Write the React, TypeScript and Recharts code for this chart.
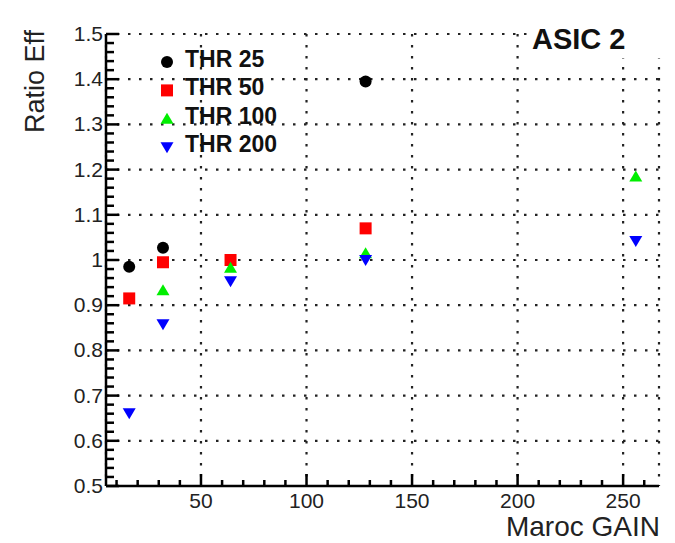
import React from 'react';
import { ScatterChart, Scatter, XAxis, YAxis, CartesianGrid } from 'recharts';

// ---- data ----
const gains = [16, 32, 64, 128, 256];
const thr25 = [0.985, 1.027, null, 1.395, null];
const thr50 = [0.915, 0.995, 1.0, 1.07, null];
const thr100 = [null, 0.933, 0.983, 1.015, 1.185];
const thr200 = [0.661, 0.858, 0.953, 1.0, 1.042];

const seriesNames = ['THR 25', 'THR 50', 'THR 100', 'THR 200'];
const seriesValues = [thr25, thr50, thr100, thr200];
const seriesColors = ['#000000', '#ff0000', '#00ee00', '#0000ff'];
const seriesShapes = ['circle', 'square', 'triangleUp', 'triangleDown'];

const xMajorTicks = [50, 100, 150, 200, 250];
const xAllTicks = [10, 20, 30, 40, 50, 60, 70, 80, 90, 100, 110, 120, 130, 140, 150, 160, 170, 180, 190, 200, 210, 220, 230, 240, 250, 260];
const xDomain = [5, 267];
const yMajorTicks = [0.5, 0.6, 0.7, 0.8, 0.9, 1.0, 1.1, 1.2, 1.3, 1.4, 1.5];
const yDomain = [0.5, 1.5];
const ySubdivisions = 5;

const yAllTicks: number[] = [];
for (let i = 0; i < yMajorTicks.length; i++) {
  yAllTicks.push(yMajorTicks[i]);
  if (i < yMajorTicks.length - 1) {
    const step = (yMajorTicks[i + 1] - yMajorTicks[i]) / ySubdivisions;
    for (let k = 1; k < ySubdivisions; k++) yAllTicks.push(+(yMajorTicks[i] + k * step).toFixed(4));
  }
}

const FONT = '"Liberation Sans", Arial, Helvetica, sans-serif';

function Marker({ shape, color, cx, cy }: any) {
  if (cx == null || cy == null) return null;
  switch (shape) {
    case 'circle':
      return <circle cx={cx} cy={cy} r={6} fill={color} />;
    case 'square':
      return <rect x={cx - 6} y={cy - 6} width={12} height={12} fill={color} />;
    case 'triangleUp':
      return <path d={`M${cx},${cy - 6} L${cx + 6.5},${cy + 5} L${cx - 6.5},${cy + 5} Z`} fill={color} />;
    case 'triangleDown':
      return <path d={`M${cx},${cy + 6} L${cx + 6.5},${cy - 5} L${cx - 6.5},${cy - 5} Z`} fill={color} />;
    default:
      return null;
  }
}

const isMajorY = (v: number) => yMajorTicks.some((m) => Math.abs(m - v) < 1e-6);

const XTick = (props: any) => {
  const { x, y, payload } = props;
  const v = payload.value;
  const major = xMajorTicks.includes(v);
  return (
    <g>
      <line x1={x} x2={x} y1={y} y2={y - (major ? 12 : 6)} stroke="#000" strokeWidth={2.5} />
      {major && (
        <text x={x} y={y + 22} textAnchor="middle" fontSize={21} fill="#222" fontFamily={FONT}>
          {v}
        </text>
      )}
    </g>
  );
};

const YTick = (props: any) => {
  const { x, y, payload } = props;
  const v = payload.value;
  const major = isMajorY(v);
  return (
    <g>
      <line x1={x} x2={x + (major ? 13 : 8)} y1={y} y2={y} stroke="#000" strokeWidth={2.5} />
      {major && (
        <text x={x - 3} y={y + 7} textAnchor="end" fontSize={21} fill="#222" fontFamily={FONT}>
          {parseFloat(v.toFixed(1)).toString()}
        </text>
      )}
    </g>
  );
};

const seriesData = seriesValues.map((vals) =>
  gains.map((g, i) => ({ x: g, y: vals[i] })).filter((d) => d.y != null)
);

export default function App() {
  return (
    <div style={{ position: 'absolute', left: 0, top: 0, width: 675, height: 543, background: '#fff' }}>
      <ScatterChart width={675} height={543} margin={{ top: 34, right: 16, bottom: 27, left: 46 }}>
        <XAxis xAxisId="gx" type="number" dataKey="x" domain={xDomain} ticks={xMajorTicks} hide allowDataOverflow />
        <YAxis yAxisId="gy" type="number" dataKey="y" domain={yDomain} ticks={yMajorTicks} hide allowDataOverflow />
        <CartesianGrid
          xAxisId="gx"
          yAxisId="gy"
          stroke="#222"
          strokeWidth={2.2}
          strokeDasharray="2.5 8.5"
        />
        <XAxis
          type="number"
          dataKey="x"
          domain={xDomain}
          ticks={xAllTicks}
          interval={0}
          height={30}
          tickSize={0}
          tickMargin={0}
          tickLine={false}
          tick={<XTick />}
          axisLine={{ stroke: '#000', strokeWidth: 2.5 }}
          allowDataOverflow
        />
        <YAxis
          type="number"
          dataKey="y"
          domain={yDomain}
          ticks={yAllTicks}
          interval={0}
          width={60}
          tickSize={0}
          tickMargin={0}
          tickLine={false}
          tick={<YTick />}
          axisLine={{ stroke: '#000', strokeWidth: 2.5 }}
          allowDataOverflow
        />
        <XAxis
          xAxisId="top"
          orientation="top"
          type="number"
          domain={xDomain}
          height={0}
          tick={false}
          tickLine={false}
          axisLine={{ stroke: '#000', strokeWidth: 2.5 }}
        />
        <YAxis
          yAxisId="right"
          orientation="right"
          type="number"
          domain={yDomain}
          width={0}
          tick={false}
          tickLine={false}
          axisLine={{ stroke: '#000', strokeWidth: 2.5 }}
        />
        {seriesData.map((d, i) => (
          <Scatter
            key={seriesNames[i]}
            name={seriesNames[i]}
            data={d}
            isAnimationActive={false}
            shape={(p: any) => <Marker shape={seriesShapes[i]} color={seriesColors[i]} cx={p.cx} cy={p.cy} />}
          />
        ))}
      </ScatterChart>
      <svg
        width={675}
        height={543}
        style={{ position: 'absolute', left: 0, top: 0, pointerEvents: 'none' }}
      >
        <text
          transform="rotate(-90)"
          x={-30}
          y={44}
          textAnchor="end"
          fontSize={27}
          fill="#222"
          fontFamily={FONT}
        >
          Ratio Eff
        </text>
        <text x={660} y={536} textAnchor="end" fontSize={28} fill="#222" fontFamily={FONT}>
          Maroc GAIN
        </text>
        <rect x={527} y={0} width={148} height={58} fill="#fff" />
        <text x={532} y={49} fontSize={29} fontWeight="bold" fill="#111" fontFamily={FONT}>
          ASIC 2
        </text>
        {seriesNames.map((name, i) => (
          <g key={name}>
            <Marker shape={seriesShapes[i]} color={seriesColors[i]} cx={167} cy={62 + i * 28.4} />
            <text x={185} y={67 + i * 28.4} fontSize={23} fontWeight="bold" fill="#111" fontFamily={FONT}>
              {name}
            </text>
          </g>
        ))}
      </svg>
    </div>
  );
}
